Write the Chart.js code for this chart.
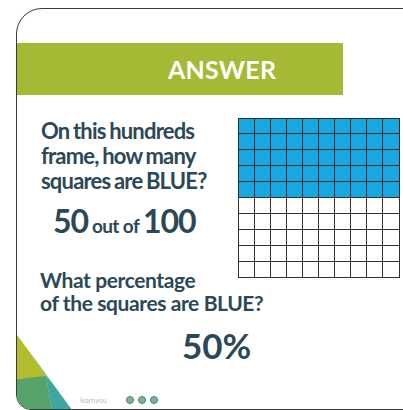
<!DOCTYPE html>
<html>
<head>
<meta charset="utf-8">
<script src="https://cdn.jsdelivr.net/npm/chart.js@4.4.1/dist/chart.umd.min.js"></script>
<style>
  html, body { margin: 0; padding: 0; }
  body { width: 403px; height: 410px; overflow: hidden; background: #fff; position: relative; font-family: Lato, "Open Sans", sans-serif; }
  #card { position: absolute; left: 16px; top: 8px; width: 440px; height: 400px; border: 1.5px solid #3a3a3a; border-radius: 26px 0 0 15px; overflow: hidden; background: #fff; }
  #banner { position: absolute; left: 17px; top: 43px; width: 326px; height: 52px; background: #a6b935; }
  #banner span { position: absolute; left: 151px; top: 11px; color: #fff; font-size: 25px; font-weight: 700; letter-spacing: 0.2px; }
  .txt { position: absolute; color: #2b4856; font-weight: 700; white-space: nowrap; }
  #q1 { left: 41px; top: 118px; font-size: 22px; line-height: 25px; letter-spacing: -0.8px; word-spacing: -1px; }
  #a1 { left: 53px; top: 202px; font-size: 32px; line-height: 38px; letter-spacing: -1px; word-spacing: -3px; }
  #a1 small { font-size: 19px; letter-spacing: -0.6px; word-spacing: 0; }
  .q2 { left: 40px; font-size: 21px; line-height: 23px; letter-spacing: -0.4px; }
  #a2 { left: 182px; top: 325px; font-size: 35px; line-height: 40px; }
  #gridBox { position: absolute; left: 237px; top: 117px; width: 163px; height: 161px; }
  #deco { position: absolute; left: 0; top: 0; }
  #logo { position: absolute; left: 80px; top: 396px; font-size: 7px; color: #a9c6b5; }
  .dot { position: absolute; top: 396px; width: 6px; height: 6px; border-radius: 50%; border: 1.5px solid #3f8b63; background: #7fb596; }
</style>
</head>
<body>
<div id="card">
  <svg id="deco" width="440" height="402" viewBox="17 9 440 402">
    <polygon points="17,335 48,377 17,379" fill="#b2bc2d"/>
    <polygon points="30,352 72,410 52,410 46,376" fill="#8fcab5"/>
    <polygon points="17,379 46,376 52,410 17,410" fill="#55a26a"/>
    <polygon points="46,376 52,383 72,410 52,410" fill="#3ea6a0"/>
  </svg>
</div>
<div id="banner"><span>ANSWER</span></div>
<div id="q1" class="txt">On this hundreds<br>frame, how many<br>squares are BLUE?</div>
<div id="a1" class="txt">50 <small>out of</small> 100</div>
<div class="txt q2" style="top:268px">What percentage</div>
<div class="txt q2" style="top:291px">of the squares are BLUE?</div>
<div id="a2" class="txt">50%</div>
<div id="gridBox"><canvas id="myChart"></canvas></div>
<div id="logo">learnyou</div>
<div class="dot" style="left:126px"></div>
<div class="dot" style="left:138px"></div>
<div class="dot" style="left:150px"></div>

<script>
// hundreds frame: 10 columns, each column split into blue / white squares
const columns = ['1', '2', '3', '4', '5', '6', '7', '8', '9', '10'];
const whiteSquares = [5, 5, 5, 5, 5, 5, 5, 5, 5, 5];
const blueSquares = [5, 5, 5, 5, 5, 5, 5, 5, 5, 5];
const rowTicks = [0, 1, 2, 3, 4, 5, 6, 7, 8, 9, 10];

let chart = new Chart("myChart", {
    type: "bar",
    data: {
        labels: columns,
        datasets: [{
            label: "white",
            data: whiteSquares,
            backgroundColor: "#ffffff",
            borderWidth: 0,
            barPercentage: 1,
            categoryPercentage: 1
        }, {
            label: "blue",
            data: blueSquares,
            backgroundColor: "#1aa7e0",
            borderWidth: 0,
            barPercentage: 1,
            categoryPercentage: 1
        }]
    },
    options: {
        responsive: true,
        maintainAspectRatio: false,
        animation: false,
        layout: { padding: 1 },
        plugins: { legend: { display: false }, tooltip: { enabled: false } },
        scales: {
            x: {
                stacked: true,
                grid: { color: "#2f2f2f", lineWidth: 1, drawTicks: false, offset: true, z: 1 },
                border: { color: "#2f2f2f", z: 1 },
                ticks: { display: false }
            },
            y: {
                stacked: true,
                min: rowTicks[0],
                max: rowTicks[rowTicks.length - 1],
                grid: { color: "#2f2f2f", lineWidth: 1, drawTicks: false, z: 1 },
                border: { color: "#2f2f2f", z: 1 },
                ticks: { display: false, stepSize: 1 }
            }
        }
    }
});
</script>
</body>
</html>
